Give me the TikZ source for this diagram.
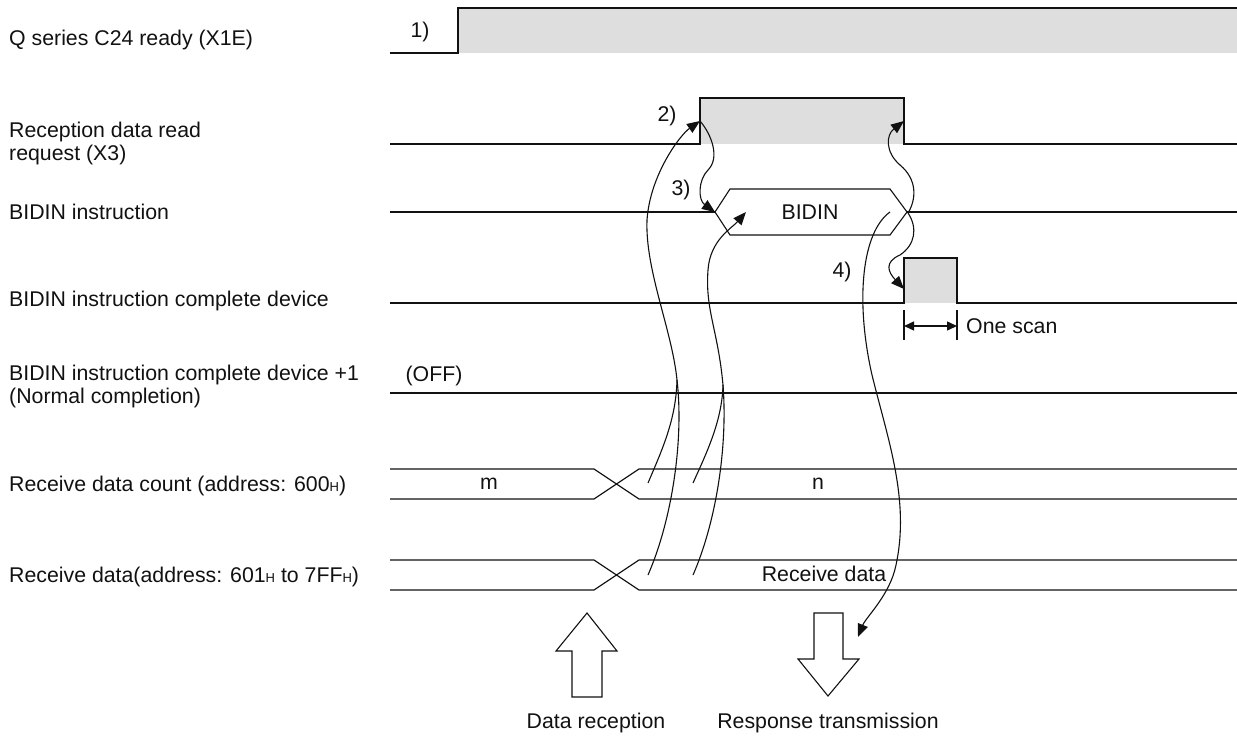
\documentclass[tikz,border=0pt]{standalone}
\usepackage{fontspec}
\setmainfont{Liberation Sans}
\usepackage{xcolor}
\usetikzlibrary{arrows.meta}
\definecolor{pulse}{HTML}{DEDEDE}
\definecolor{ink}{HTML}{111111}
\newcommand\hsub{{\fontsize{13}{13}\selectfont H}}
\tikzset{fig/.style={x=1pt,y=-1pt,line join=miter,>={Triangle[length=13pt,width=10.5pt]}},
  sig/.style={ink,line width=1.4pt},
  flow/.style={ink,line width=1.1pt,->},
  txt/.style={ink,font=\fontsize{21.3}{23}\selectfont,inner sep=0pt},
  lbl/.style={txt,anchor=west,align=left}}

\begin{document}
\begin{tikzpicture}[fig]
  \useasboundingbox (0,0) rectangle (1237,736);
  % signal names
  \node[lbl] (nRdy) at (9,40) {Q series C24 ready (X1E)};
  \node[lbl] (nReq) at (9,143) {Reception data read\\request (X3)};
  \node[lbl] (nIns) at (9,212) {BIDIN instruction};
  \node[lbl] (nCmp) at (9,301) {BIDIN instruction complete device};
  \node[lbl] (nOk) at (9,386) {BIDIN instruction complete device +1\\(Normal completion)};
  \node[lbl] (nCnt) at (9,486) {Receive data count (address: 600\hsub)};
  \node[lbl] (nDat) at (9,577) {Receive data(address: 601\hsub{} to 7FF\hsub)};
  % 1) Q series C24 ready
  \fill[pulse] (458,8) rectangle (1237,53);
  \draw[sig] (390,53) -- (458,53) -- (458,8) -- (1237,8);
  \node[txt] (s1) at (420,32) {1)};
  % 2) read request X3
  \fill[pulse] (700,98) rectangle (904,144);
  \draw[sig] (390,144) -- (700,144) -- (700,98) -- (904,98) -- (904,144) -- (1237,144);
  \node[txt] (s2) at (667,116) {2)};
  % 3) BIDIN instruction
  \draw[sig] (390,212) -- (715,212) (907,212) -- (1237,212);
  \draw[ink,line width=1.1pt] (715,212) -- (730,189) -- (890,189) -- (907,212) -- (890,235) -- (730,235) -- cycle;
  \node[txt] (bidin) at (810,212) {BIDIN};
  \node[txt] (s3) at (681,190) {3)};
  % 4) complete device
  \fill[pulse] (904,258) rectangle (957,303);
  \draw[sig] (390,303) -- (904,303) -- (904,258) -- (957,258) -- (957,303) -- (1237,303);
  \node[txt] (s4) at (842,272) {4)};
  \draw[sig] (904,310) -- (904,340) (957,310) -- (957,340);
  \draw[sig,{Triangle[length=10pt,width=9pt]}-{Triangle[length=10pt,width=9pt]}] (904,326) -- (957,326);
  \node[txt,anchor=west] (scan) at (966,326) {One scan};
  % complete device +1
  \draw[sig] (390,393) -- (1237,393);
  \node[txt] (off) at (434,376) {(OFF)};
  % buffer memory
  \foreach \t/\b in {469/499,560/590}{
    \draw[sig,line width=1.2pt] (390,\t) -- (594,\t) -- (639,\b) -- (1237,\b);
    \draw[sig,line width=1.2pt] (390,\b) -- (594,\b) -- (639,\t) -- (1237,\t);
  }
  \node[txt] (m) at (489,484) {m};
  \node[txt] (n) at (818,484) {n};
  \node[txt] (rdat) at (824,574) {Receive data};
  % connector ends
  \coordinate (a1) at (648,483); \coordinate (a2) at (648,575);
  \coordinate (b1) at (693,483); \coordinate (b2) at (693,575);
  \coordinate (aM) at (677,380); \coordinate (bM) at (723,385);
  \coordinate (reqOn) at (700,121); \coordinate (reqOff) at (904,121);
  \coordinate (insOn) at (715,212); \coordinate (insIn) at (746,212);
  \coordinate (insOut) at (890,212); \coordinate (insEnd) at (908,213);
  \coordinate (cmpOn) at (904,289); \coordinate (resp) at (858,637);
  % reception -> read request, reception -> BIDIN
  \draw[flow] (a2) .. controls (672,520) and (684,440) .. (aM)
    .. controls (672,330) and (645,270) .. (647,220)
    .. controls (650,175) and (680,135) .. (reqOn);
  \draw[ink,line width=1.1pt] (a1) .. controls (662,450) and (676,420) .. (aM);
  \draw[flow] (b2) .. controls (715,525) and (728,450) .. (bM)
    .. controls (718,330) and (705,310) .. (708,270)
    .. controls (710,240) and (732,228) .. (insIn);
  \draw[ink,line width=1.1pt] (b1) .. controls (708,450) and (722,420) .. (bM);
  % read request -> BIDIN start
  \draw[flow] (reqOn) .. controls (712,135) and (720,158) .. (708,170)
    .. controls (698,180) and (698,200) .. (insOn);
  % BIDIN end -> read request off, complete device on
  \draw[flow] (insEnd) .. controls (916,200) and (918,180) .. (900,165)
    .. controls (885,152) and (886,135) .. (reqOff);
  \draw[flow] (insEnd) .. controls (918,228) and (915,245) .. (900,255)
    .. controls (884,262) and (888,272) .. (cmpOn);
  % BIDIN -> response transmission
  \draw[flow] (insOut) .. controls (862,232) and (855,300) .. (872,375)
    .. controls (888,440) and (910,500) .. (896,565)
    .. controls (890,595) and (866,617) .. (resp);
  % block arrows
  \draw[ink,line width=1.1pt] (587,613) -- (617,651) -- (602,651) -- (602,697) -- (572,697) -- (572,651) -- (556,651) -- cycle;
  \node[txt] (drecv) at (596,723) {Data reception};
  \draw[ink,line width=1.1pt] (814,613) -- (843,613) -- (843,659) -- (859,659) -- (828,696) -- (798,659) -- (814,659) -- cycle;
  \node[txt] (rsend) at (828,723) {Response transmission};
\end{tikzpicture}
\end{document}
